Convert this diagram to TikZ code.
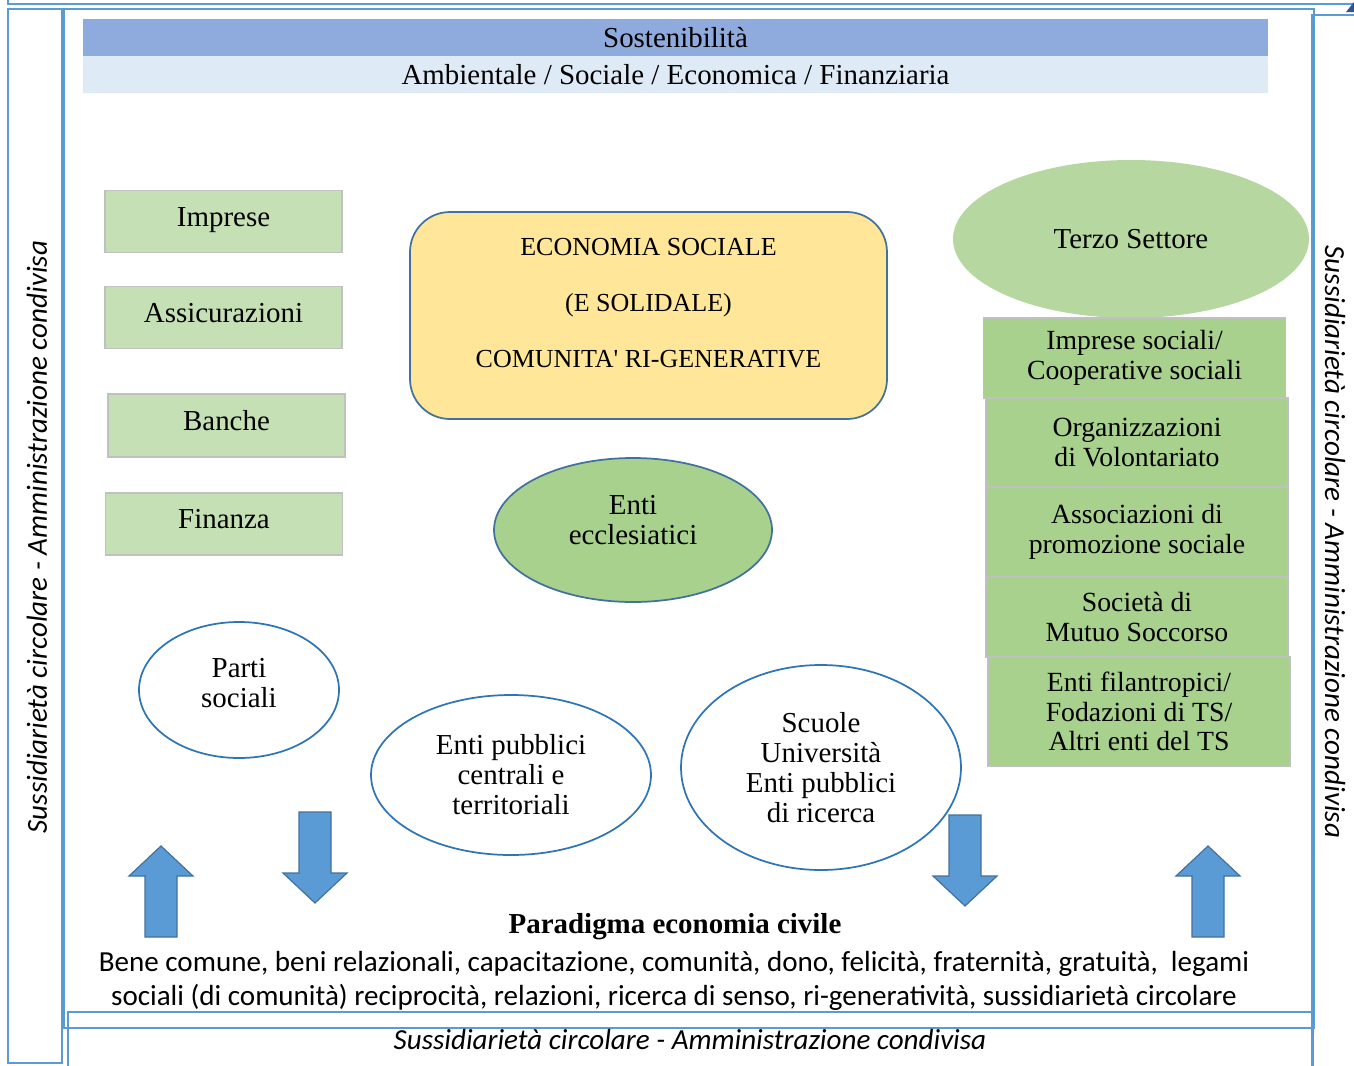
\documentclass[tikz,border=0pt]{standalone}
\usepackage{fontspec}
\setmainfont{Liberation Serif}
\setsansfont{Carlito}
\usetikzlibrary{shapes.geometric,positioning}

\definecolor{frameblue}{HTML}{5B9BD5}
\definecolor{banddark}{HTML}{8FAADC}
\definecolor{bandlight}{HTML}{DEEBF7}
\definecolor{boxgray}{HTML}{C0C0C0}
\definecolor{lgreen}{HTML}{C5E0B4}
\definecolor{mgreen}{HTML}{A9D18E}
\definecolor{tsgreen}{HTML}{B6D7A0}
\definecolor{econyellow}{HTML}{FFE699}
\definecolor{darkedge}{HTML}{41719C}
\definecolor{ovalblue}{HTML}{2E75B6}
\definecolor{arrowblue}{HTML}{5B9BD5}
\definecolor{cornerblue}{HTML}{2F5597}

\begin{document}
\begin{tikzpicture}[
                x=0.75pt, y=-0.75pt,
                txt/.style={font=\fontsize{21.7}{22.5}\selectfont, align=center},
                frame/.style={draw=frameblue, line width=1.3pt},
                band/.style={txt, inner sep=0pt, minimum width=888.75pt, minimum height=27.75pt},
                lbox/.style={txt, rectangle, draw=boxgray, fill=lgreen, line width=1pt, minimum width=177.75pt, minimum height=46.5pt, text height=15pt, text depth=8.2pt},
                rbox/.style={txt, font=\fontsize{20.8}{22.3}\selectfont, rectangle, draw=boxgray, fill=mgreen, line width=1pt, minimum width=226.5pt},
                oval/.style={txt, ellipse, draw=ovalblue, line width=1.3pt, fill=white, inner sep=0pt},
                blockarrow/.style={draw=darkedge, fill=arrowblue, line width=0.9pt, line join=miter},
                sidetext/.style={font=\fontsize{21.8}{24}\selectfont\sffamily\itshape}
                ]
            \useasboundingbox (0,0) rectangle (1354,1065);
            % Frames
            \draw[frame] (8,-10) rectangle (1370,4);
            \draw[frame] (8,9) rectangle (62,1063);
            \draw[frame] (64,9) rectangle (1314,1028);
            \draw[frame] (1312,15) rectangle (1370,1080);
            \draw[frame] (68,1012) rectangle (1313,1080);
            \fill[cornerblue] (1346,12) -- (1354,12) -- (1354,2) -- cycle;
            % Bands
            \node[band, fill=banddark] (sost) at (675.5,37.5) {Sostenibilità};
            \node[band, fill=bandlight] (amb) at (675.5,74.5) {Ambientale / Sociale / Economica / Finanziaria};
            % Left column
            \node[lbox] (imp) at (223.5,221.5) {Imprese};
            \node[lbox] (ass) at (223.5,317.5) {Assicurazioni};
            \node[lbox, minimum height=47.25pt] (ban) at (226.5,425.5) {Banche};
            \node[lbox] (fin) at (224,524) {Finanza};
            % Centre
            \node[rectangle, rounded corners=30pt, draw=darkedge, fill=econyellow, line width=1.3pt,
                  minimum width=357.75pt, minimum height=155.25pt,
                  label={[align=center, font=\fontsize{19.5}{42}\selectfont, yshift=9pt]center:{ECONOMIA SOCIALE\\(E SOLIDALE)\\COMUNITA\textquotesingle{} RI-GENERATIVE}}]
                  (eco) at (648.5,315.5) {};
            \node[ellipse, draw=darkedge, fill=mgreen, line width=1.3pt, inner sep=0pt,
                  minimum width=208.5pt, minimum height=108pt,
                  label={[txt, yshift=7.5pt]center:{Enti\\ecclesiatici}}] (ecc) at (633,530) {};
            % Right column
            \node[txt, ellipse, fill=tsgreen, inner sep=0pt, minimum width=267pt, minimum height=118.5pt] (ts) at (1131,239) {Terzo Settore};
            \node[rbox, minimum height=60pt] (isoc) at (1134.5,358) {Imprese sociali/\\Cooperative sociali};
            \node[rbox, minimum height=66.75pt] (odv) at (1137,442.5) {Organizzazioni\\di Volontariato};
            \node[rbox, minimum height=67.5pt] (aps) at (1137,532) {Associazioni di\\promozione sociale};
            \node[rbox, minimum height=60pt] (soms) at (1137,617) {Società di\\Mutuo Soccorso};
            \node[rbox, minimum height=81.75pt] (filan) at (1139,711.5) {Enti filantropici/\\Fodazioni di TS/\\Altri enti del TS};
            % Ovals
            \node[oval, minimum width=150pt, minimum height=102pt,
                  label={[txt, yshift=5pt]center:{Parti\\sociali}}] (parti) at (239,690) {};
            \node[oval, minimum width=210pt, minimum height=120pt] (pubb) at (511,775) {Enti pubblici\\centrali e\\territoriali};
            \node[oval, minimum width=210pt, minimum height=153.75pt] (scuole) at (821,767.5) {Scuole\\Università\\Enti pubblici\\di ricerca};
            % Arrows
            \draw[blockarrow] (145,937) -- (145,876) -- (129,876) -- (161,846) -- (193,876) -- (177,876) -- (177,937) -- cycle;
            \draw[blockarrow] (299,812) -- (331,812) -- (331,873) -- (347,873) -- (315,903) -- (283,873) -- (299,873) -- cycle;
            \draw[blockarrow] (949,815) -- (981,815) -- (981,876) -- (997,876) -- (965,906) -- (933,876) -- (949,876) -- cycle;
            \draw[blockarrow] (1192,937) -- (1192,876) -- (1176,876) -- (1208,846) -- (1240,876) -- (1224,876) -- (1224,937) -- cycle;
            % Paradigma
            \node[txt, font=\fontsize{21.7}{22.5}\selectfont\bfseries] (par) at (675,927) {Paradigma economia civile};
            \node[align=center, font=\fontsize{21.8}{26}\selectfont\sffamily] (beni) at (674,981)
                {Bene comune, beni relazionali, capacitazione, comunità, dono, felicità, fraternità, gratuità,\ \ legami\\
                 sociali (di comunità) reciprocità, relazioni, ricerca di senso, ri-generatività, sussidiarietà circolare};
            % Side texts
            \node[sidetext, rotate=90] (sleft) at (37,537) {Sussidiarietà circolare - Amministrazione condivisa};
            \node[sidetext, rotate=-90] (sright) at (1335,542) {Sussidiarietà circolare - Amministrazione condivisa};
            \node[sidetext] (sbottom) at (690,1040) {Sussidiarietà circolare - Amministrazione condivisa};

            \end{tikzpicture}
\end{document}
